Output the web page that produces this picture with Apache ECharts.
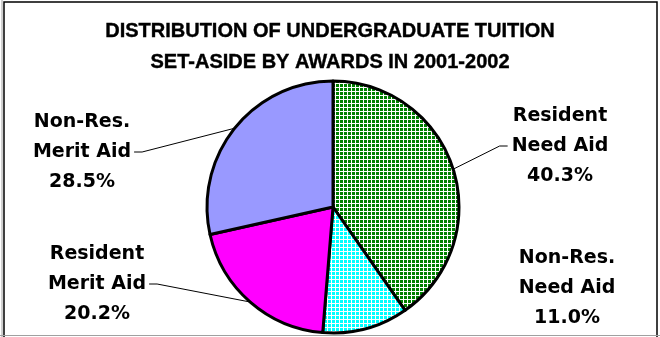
<!DOCTYPE html>
<html>
<head>
<meta charset="utf-8">
<script src="https://cdn.jsdelivr.net/npm/echarts@6/dist/echarts.min.js"></script>
<style>
  html, body { margin: 0; padding: 0; background: #ffffff; }
  #chart { width: 660px; height: 337px; }
</style>
</head>
<body>
<div id="chart"></div>
<script>
// ---- data ----
const titleLines = ['DISTRIBUTION OF UNDERGRADUATE TUITION', 'SET-ASIDE BY AWARDS IN 2001-2002'];
const categories = ['Resident\nNeed Aid', 'Non-Res.\nNeed Aid', 'Resident\nMerit Aid', 'Non-Res.\nMerit Aid'];
const values = [40.3, 11.0, 20.2, 28.5];

// ---- layout / style (not data) ----
const labelPositions = [[560, 146], [567, 288], [97, 284], [82, 152]];
const showLeader = [true, false, true, true];

function makePattern(fg, bg) {
  const c = document.createElement('canvas');
  c.width = 4; c.height = 4;
  const ctx = c.getContext('2d');
  ctx.fillStyle = bg; ctx.fillRect(0, 0, 4, 4);
  ctx.fillStyle = fg; ctx.fillRect(0, 0, 3, 3);
  return c;
}
const fills = [
  { image: makePattern('#008000', '#ffffff'), repeat: 'repeat' },
  { image: makePattern('#00ffff', '#ffffff'), repeat: 'repeat' },
  '#ff00ff',
  '#9999ff'
];

const chart = echarts.init(document.getElementById('chart'), null, { renderer: 'canvas' });

const data = categories.map((c, i) => ({
  name: c,
  value: values[i],
  itemStyle: { color: fills[i] },
  labelLine: { show: showLeader[i] }
}));

chart.setOption({
  animation: false,
  backgroundColor: '#ffffff',
  title: {
    text: titleLines.join('\n'),
    left: 'center',
    top: 11,
    textStyle: {
      fontFamily: 'Liberation Sans, Arial, sans-serif',
      fontWeight: 'bold',
      fontSize: 20,
      lineHeight: 31,
      color: '#000000',
      textBorderColor: '#000000',
      textBorderWidth: 0.4
    }
  },
  graphic: [
    { type: 'rect', shape: { x: 4, y: 2, width: 653, height: 340 }, style: { fill: null, stroke: '#000000', lineWidth: 1.5 }, silent: true, z: -1 },
    { type: 'line', shape: { x1: 2, y1: 0, x2: 2, y2: 337 }, style: { stroke: '#a0a0a0', lineWidth: 1 }, silent: true },
    { type: 'line', shape: { x1: 0, y1: 335.5, x2: 660, y2: 335.5 }, style: { stroke: '#a0a0a0', lineWidth: 1 }, silent: true }
  ],
  series: [{
    type: 'pie',
    center: [333, 207],
    radius: 126,
    startAngle: 90,
    clockwise: true,
    avoidLabelOverlap: false,
    itemStyle: { borderColor: '#000000', borderWidth: 3 },
    emphasis: { disabled: true },
    label: {
      show: true,
      position: 'outside',
      formatter: p => p.name + '\n' + p.value.toFixed(1) + '%',
      fontFamily: 'DejaVu Sans, sans-serif',
      fontWeight: 'bold',
      fontSize: 19,
      lineHeight: 30,
      color: '#000000',
      align: 'center'
    },
    labelLine: {
      show: true,
      length: 10,
      length2: 10,
      lineStyle: { color: '#000000', width: 1 }
    },
    labelLayout: function (params) {
      const i = params.dataIndex;
      const pos = labelPositions[i];
      const w = params.labelRect.width;
      const res = { x: pos[0], y: pos[1], align: 'center', verticalAlign: 'middle' };
      const pts = params.labelLinePoints;
      if (showLeader[i] && pts && pts.length) {
        const p0 = pts[0];
        const leftSide = pos[0] < 333;
        const endX = leftSide ? pos[0] + w / 2 + 3 : pos[0] - w / 2 - 4;
        const bendX = leftSide ? endX + 8 : endX - 8;
        res.labelLinePoints = [[p0[0], p0[1]], [bendX, pos[1]], [endX, pos[1]]];
      }
      return res;
    },
    data: data
  }]
});
</script>
</body>
</html>
